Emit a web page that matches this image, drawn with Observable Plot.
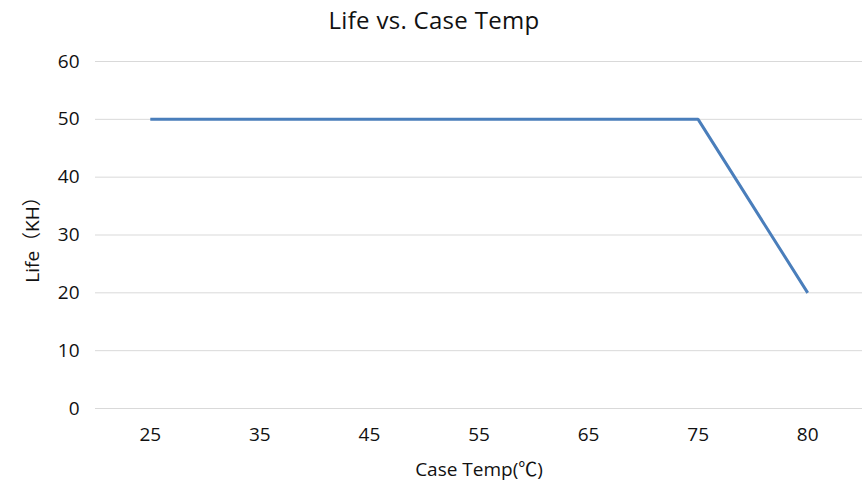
<!DOCTYPE html>
<html>
<head>
<meta charset="utf-8">
<script src="https://cdn.jsdelivr.net/npm/d3@7"></script>
<script src="https://cdn.jsdelivr.net/npm/@observablehq/plot@0.6"></script>
<style>
  html, body { margin: 0; padding: 0; background: #fff; }
  #title { height: 40px; line-height: 40px; text-align: center; font-family: "Open Sans", sans-serif; font-size: 24px; color: #111; letter-spacing: 0.3px; }
</style>
</head>
<body>
<div id="title">Life vs. Case Temp</div>
<div id="chart"></div>
<script>
const caseTemps = ["25", "35", "45", "55", "65", "75", "80"];
const lifeKH = [50, 50, 50, 50, 50, 50, 20];
const yTicks = [0, 10, 20, 30, 40, 50, 60];
const xLabel = "Case Temp(℃)";
const yLabel = "Life（KH）";

const data = caseTemps.map((t, i) => ({temp: t, life: lifeKH[i]}));

const chart = Plot.plot({
  width: 868,
  height: 445,
  marginTop: 21,
  marginBottom: 77,
  marginLeft: 95,
  marginRight: 6,
  style: {fontFamily: "'Open Sans', sans-serif", fontSize: "19px", color: "#111", background: "#fff"},
  x: {type: "point", domain: caseTemps, padding: 0.5, round: false},
  y: {domain: [0, 60]},
  marks: [
    Plot.gridY(yTicks, {stroke: "#d9d9d9", strokeOpacity: 1, strokeWidth: 1}),
    Plot.axisY(yTicks, {tickSize: 0, tickPadding: 16, label: null, fontSize: 19, fill: "#111"}),
    Plot.axisX(caseTemps, {tickSize: 0, tickPadding: 19, label: null, fontSize: 19, fill: "#111"}),
    Plot.line(data, {x: "temp", y: "life", stroke: "#4a7ebb", strokeWidth: 3, strokeLinejoin: "miter", strokeLinecap: "butt"}),
    Plot.text([xLabel], {frameAnchor: "bottom", textAnchor: "middle", lineAnchor: "middle", dy: 61, fontSize: 19, fill: "#111", letterSpacing: "0.6px", fontFamily: "'Open Sans', 'Noto Sans CJK SC', sans-serif"}),
    Plot.text([yLabel], {frameAnchor: "left", textAnchor: "middle", lineAnchor: "middle", dx: -63, rotate: -90, fontSize: 19, fill: "#111", fontFamily: "'Open Sans', 'Noto Sans CJK SC', sans-serif"})
  ]
});
document.getElementById("chart").appendChild(chart);
</script>
</body>
</html>
